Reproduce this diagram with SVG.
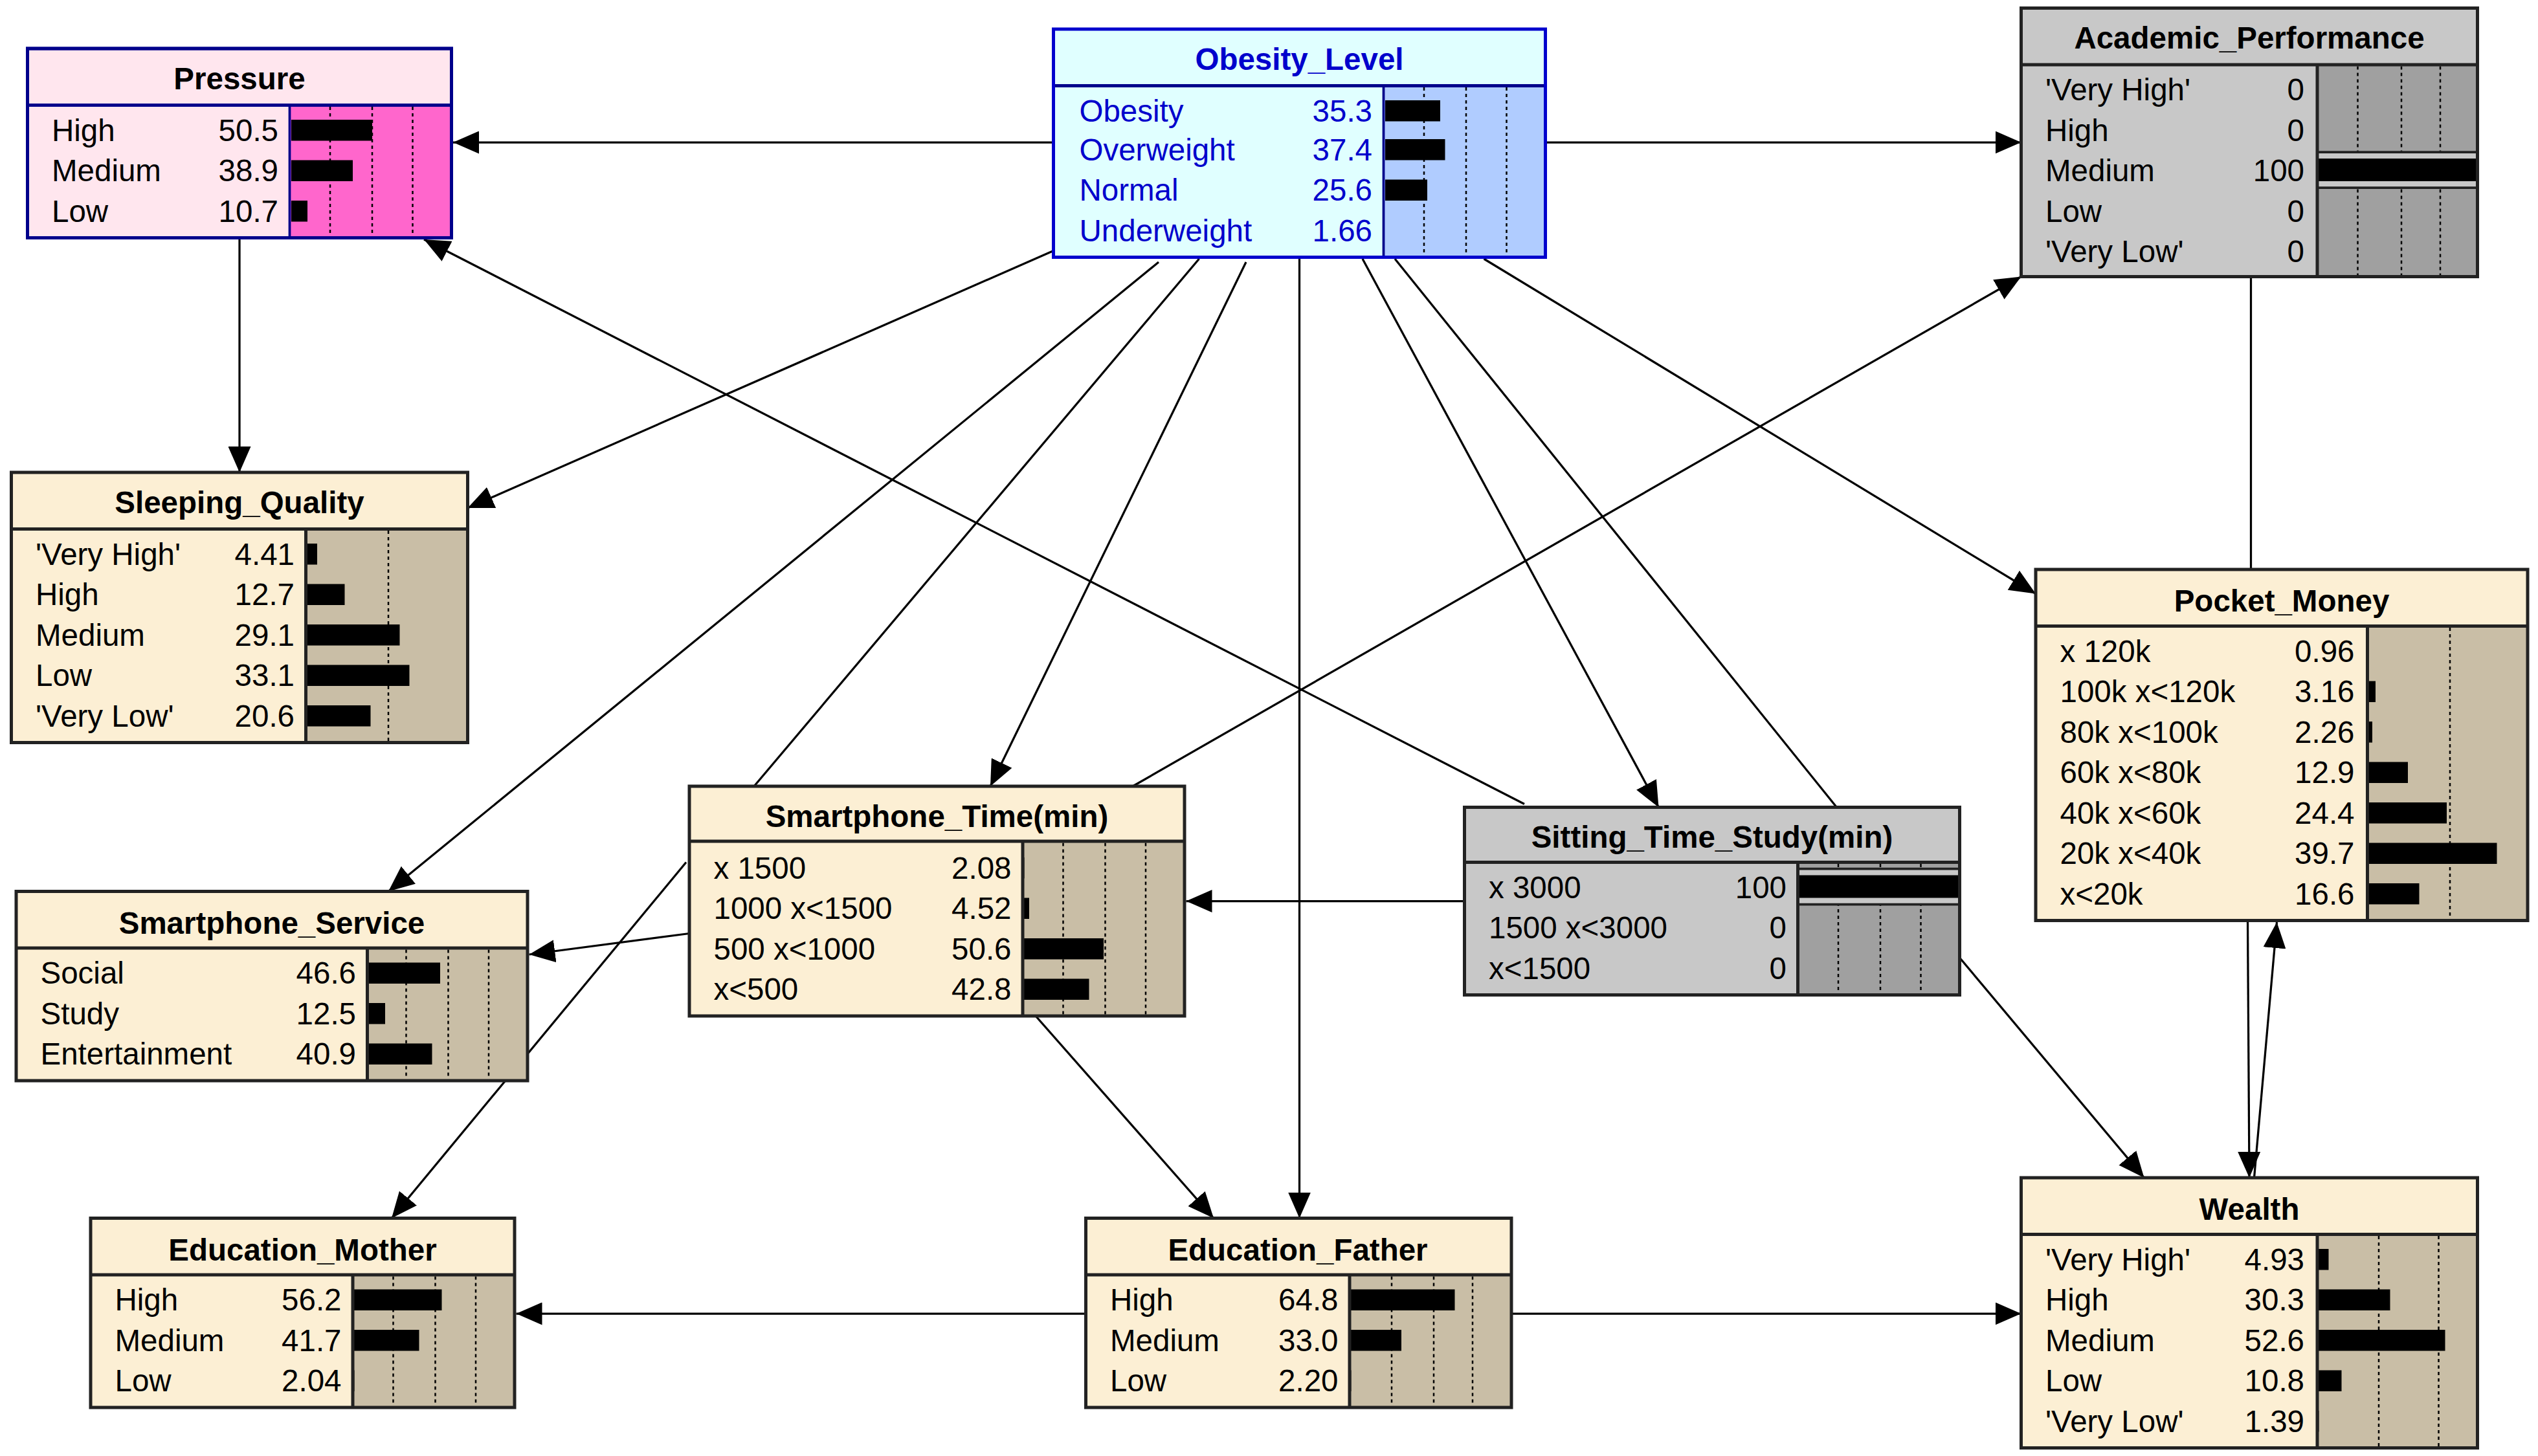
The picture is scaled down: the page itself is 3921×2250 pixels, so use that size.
<svg xmlns="http://www.w3.org/2000/svg" width="3921" height="2250" viewBox="0 0 3921 2250">
<defs>
<marker id="ah" markerUnits="userSpaceOnUse" markerWidth="18" markerHeight="14" refX="16" refY="7" orient="auto"><path d="M0,0 L16,7 L0,14 Z" fill="#000"/></marker>
<style>
text{font-family:"Liberation Sans",Arial,sans-serif;font-size:19px;fill:#000}
.t{font-weight:bold;text-anchor:middle}
.v{text-anchor:end}
.box{stroke:#222;stroke-width:2}
.sep{stroke:#222;stroke-width:2}
.dot{stroke:#000;stroke-width:1;stroke-dasharray:2,2}
.bar{fill:#000}
.tan{fill:#FCEFD4}
.tanb{fill:#C9BEA6}
.c{stroke:#000;stroke-width:1.3;fill:none}
.ca{stroke:#000;stroke-width:1.3;fill:none;marker-end:url(#ah)}
.blue{fill:#0000CC}
</style>
</defs>
<rect width="3921" height="2250" fill="#fff"/>
<g transform="scale(2.5)">
<g id="connectors">
<line class="ca" x1="651" y1="88" x2="280" y2="88"/>
<line class="ca" x1="955" y1="88" x2="1249" y2="88"/>
<line class="ca" x1="148" y1="147" x2="148" y2="292"/>
<line class="ca" x1="651" y1="155" x2="289" y2="314"/>
<line class="ca" x1="942" y1="497" x2="262" y2="148"/>
<line class="ca" x1="716" y1="162" x2="240" y2="551"/>
<line class="ca" x1="770" y1="162" x2="612" y2="486"/>
<line class="ca" x1="803" y1="160" x2="803" y2="753"/>
<line class="ca" x1="842" y1="160" x2="1025" y2="499"/>
<line class="ca" x1="917" y1="160" x2="1258" y2="367"/>
<line class="c" x1="741" y1="160" x2="466" y2="486"/>
<line class="c" x1="862" y1="160" x2="1135" y2="499"/>
<line class="c" x1="1391" y1="171" x2="1391" y2="352"/>
<line class="ca" x1="700" y1="486" x2="1249" y2="171"/>
<line class="ca" x1="905" y1="557" x2="733" y2="557"/>
<line class="ca" x1="426" y1="577" x2="327" y2="590"/>
<line class="ca" x1="424" y1="533" x2="242" y2="753"/>
<line class="ca" x1="640" y1="628" x2="750" y2="753"/>
<line class="ca" x1="671" y1="812" x2="319" y2="812"/>
<line class="ca" x1="934" y1="812" x2="1249" y2="812"/>
<line class="ca" x1="1211" y1="592" x2="1325" y2="728"/>
<line class="ca" x1="1389" y1="569" x2="1390" y2="728"/>
<line class="ca" x1="1393" y1="728" x2="1407" y2="570"/>
</g>

<g id="Pressure">
<rect x="17" y="30" width="262" height="117" fill="#FFE6EE" stroke="#00008B" stroke-width="2"/>
<rect x="179" y="65" width="100" height="82" fill="#FF66CC"/>
<line x1="17" y1="65" x2="279" y2="65" stroke="#00008B" stroke-width="2"/>
<line x1="179" y1="65" x2="179" y2="147" stroke="#00008B" stroke-width="1.5"/>
<line class="dot" x1="204" y1="66" x2="204" y2="146"/><line class="dot" x1="230" y1="66" x2="230" y2="146"/><line class="dot" x1="255" y1="66" x2="255" y2="146"/>
<rect class="bar" x="180" y="74" width="50" height="13"/><rect class="bar" x="180" y="99" width="38" height="13"/><rect class="bar" x="180" y="124" width="10" height="13"/>
<rect x="17" y="30" width="262" height="117" fill="none" stroke="#00008B" stroke-width="2"/>
<text class="t" x="148" y="55">Pressure</text>
<text x="32" y="87">High</text><text class="v" x="172" y="87">50.5</text>
<text x="32" y="112">Medium</text><text class="v" x="172" y="112">38.9</text>
<text x="32" y="137">Low</text><text class="v" x="172" y="137">10.7</text>
</g>

<g id="Obesity_Level">
<rect x="651" y="18" width="304" height="141" fill="#E0FFFF"/>
<rect x="855" y="53" width="100" height="106" fill="#B0CCFF"/>
<line x1="651" y1="53" x2="955" y2="53" stroke="#00008B" stroke-width="2"/>
<line x1="855" y1="53" x2="855" y2="159" stroke="#00008B" stroke-width="1.5"/>
<line class="dot" x1="880" y1="54" x2="880" y2="158"/><line class="dot" x1="906" y1="54" x2="906" y2="158"/><line class="dot" x1="931" y1="54" x2="931" y2="158"/>
<rect class="bar" x="856" y="62" width="34" height="13"/><rect class="bar" x="856" y="86" width="37" height="13"/><rect class="bar" x="856" y="111" width="26" height="13"/>
<rect x="651" y="18" width="304" height="141" fill="none" stroke="#0000CD" stroke-width="2"/>
<text class="t blue" x="803" y="43">Obesity_Level</text>
<text class="blue" x="667" y="75">Obesity</text><text class="v blue" x="848" y="75">35.3</text>
<text class="blue" x="667" y="99">Overweight</text><text class="v blue" x="848" y="99">37.4</text>
<text class="blue" x="667" y="124">Normal</text><text class="v blue" x="848" y="124">25.6</text>
<text class="blue" x="667" y="149">Underweight</text><text class="v blue" x="848" y="149">1.66</text>
</g>

<g id="Academic_Performance">
<rect x="1249" y="5" width="282" height="166" fill="#C8C8C8"/>
<rect x="1432" y="40" width="99" height="131" fill="#A0A0A0"/>
<line class="dot" x1="1457" y1="41" x2="1457" y2="170"/><line class="dot" x1="1484" y1="41" x2="1484" y2="170"/><line class="dot" x1="1508" y1="41" x2="1508" y2="170"/>
<rect x="1432" y="94" width="99" height="22" fill="#C8C8C8"/>
<line x1="1432" y1="94" x2="1531" y2="94" stroke="#222" stroke-width="1.5"/><line x1="1432" y1="116" x2="1531" y2="116" stroke="#222" stroke-width="1.5"/>
<rect class="bar" x="1432" y="98" width="99" height="14"/>
<line class="sep" x1="1249" y1="40" x2="1531" y2="40"/>
<line class="sep" x1="1432" y1="40" x2="1432" y2="171"/>
<rect class="box" x="1249" y="5" width="282" height="166" fill="none"/>
<text class="t" x="1390" y="30">Academic_Performance</text>
<text x="1264" y="62">'Very High'</text><text class="v" x="1424" y="62">0</text>
<text x="1264" y="87">High</text><text class="v" x="1424" y="87">0</text>
<text x="1264" y="112">Medium</text><text class="v" x="1424" y="112">100</text>
<text x="1264" y="137">Low</text><text class="v" x="1424" y="137">0</text>
<text x="1264" y="162">'Very Low'</text><text class="v" x="1424" y="162">0</text>
</g>

<g id="Sleeping_Quality">
<rect class="tan" x="7" y="292" width="282" height="167"/>
<rect class="tanb" x="189" y="327" width="100" height="132"/>
<line class="dot" x1="240" y1="328" x2="240" y2="458"/>
<rect class="bar" x="190" y="336" width="6" height="13"/><rect class="bar" x="190" y="361" width="23" height="13"/><rect class="bar" x="190" y="386" width="57" height="13"/><rect class="bar" x="190" y="411" width="63" height="13"/><rect class="bar" x="190" y="436" width="39" height="13"/>
<line class="sep" x1="7" y1="327" x2="289" y2="327"/><line class="sep" x1="189" y1="327" x2="189" y2="459"/>
<rect class="box" x="7" y="292" width="282" height="167" fill="none"/>
<text class="t" x="148" y="317">Sleeping_Quality</text>
<text x="22" y="349">'Very High'</text><text class="v" x="182" y="349">4.41</text>
<text x="22" y="374">High</text><text class="v" x="182" y="374">12.7</text>
<text x="22" y="399">Medium</text><text class="v" x="182" y="399">29.1</text>
<text x="22" y="424">Low</text><text class="v" x="182" y="424">33.1</text>
<text x="22" y="449">'Very Low'</text><text class="v" x="182" y="449">20.6</text>
</g>

<g id="Pocket_Money">
<rect class="tan" x="1258" y="352" width="304" height="217"/>
<rect class="tanb" x="1463" y="387" width="99" height="182"/>
<line class="dot" x1="1514" y1="388" x2="1514" y2="568"/>
<rect class="bar" x="1463" y="421" width="5" height="13"/><rect class="bar" x="1463" y="446" width="3" height="13"/><rect class="bar" x="1463" y="471" width="25" height="13"/><rect class="bar" x="1463" y="496" width="49" height="13"/><rect class="bar" x="1463" y="521" width="80" height="13"/><rect class="bar" x="1463" y="546" width="32" height="13"/>
<line class="sep" x1="1258" y1="387" x2="1562" y2="387"/><line class="sep" x1="1463" y1="387" x2="1463" y2="569"/>
<rect class="box" x="1258" y="352" width="304" height="217" fill="none"/>
<text class="t" x="1410" y="378">Pocket_Money</text>
<text x="1273" y="409">x 120k</text><text class="v" x="1455" y="409">0.96</text>
<text x="1273" y="434">100k x&lt;120k</text><text class="v" x="1455" y="434">3.16</text>
<text x="1273" y="459">80k x&lt;100k</text><text class="v" x="1455" y="459">2.26</text>
<text x="1273" y="484">60k x&lt;80k</text><text class="v" x="1455" y="484">12.9</text>
<text x="1273" y="509">40k x&lt;60k</text><text class="v" x="1455" y="509">24.4</text>
<text x="1273" y="534">20k x&lt;40k</text><text class="v" x="1455" y="534">39.7</text>
<text x="1273" y="559">x&lt;20k</text><text class="v" x="1455" y="559">16.6</text>
</g>

<g id="Smartphone_Time">
<rect class="tan" x="426" y="486" width="306" height="142"/>
<rect class="tanb" x="632" y="520" width="100" height="108"/>
<line class="dot" x1="657" y1="521" x2="657" y2="627"/><line class="dot" x1="683" y1="521" x2="683" y2="627"/><line class="dot" x1="708" y1="521" x2="708" y2="627"/>
<rect class="bar" x="632" y="530" width="1" height="13"/><rect class="bar" x="632" y="555" width="4" height="13"/><rect class="bar" x="632" y="580" width="50" height="13"/><rect class="bar" x="632" y="605" width="41" height="13"/>
<line class="sep" x1="426" y1="520" x2="732" y2="520"/><line class="sep" x1="632" y1="520" x2="632" y2="628"/>
<rect class="box" x="426" y="486" width="306" height="142" fill="none"/>
<text class="t" x="579" y="511">Smartphone_Time(min)</text>
<text x="441" y="543">x 1500</text><text class="v" x="625" y="543">2.08</text>
<text x="441" y="568">1000 x&lt;1500</text><text class="v" x="625" y="568">4.52</text>
<text x="441" y="593">500 x&lt;1000</text><text class="v" x="625" y="593">50.6</text>
<text x="441" y="618">x&lt;500</text><text class="v" x="625" y="618">42.8</text>
</g>

<g id="Sitting_Time_Study">
<rect x="905" y="499" width="306" height="116" fill="#C8C8C8"/>
<rect x="1111" y="533" width="100" height="82" fill="#A0A0A0"/>
<line class="dot" x1="1136" y1="534" x2="1136" y2="614"/><line class="dot" x1="1162" y1="534" x2="1162" y2="614"/><line class="dot" x1="1187" y1="534" x2="1187" y2="614"/>
<rect x="1111" y="537" width="100" height="22" fill="#C8C8C8"/>
<line x1="1111" y1="537" x2="1211" y2="537" stroke="#222" stroke-width="1.5"/><line x1="1111" y1="559" x2="1211" y2="559" stroke="#222" stroke-width="1.5"/>
<rect class="bar" x="1111" y="541" width="100" height="14"/>
<line class="sep" x1="905" y1="533" x2="1211" y2="533"/><line class="sep" x1="1111" y1="533" x2="1111" y2="615"/>
<rect class="box" x="905" y="499" width="306" height="116" fill="none"/>
<text class="t" x="1058" y="524">Sitting_Time_Study(min)</text>
<text x="920" y="555">x 3000</text><text class="v" x="1104" y="555">100</text>
<text x="920" y="580">1500 x&lt;3000</text><text class="v" x="1104" y="580">0</text>
<text x="920" y="605">x&lt;1500</text><text class="v" x="1104" y="605">0</text>
</g>

<g id="Smartphone_Service">
<rect class="tan" x="10" y="551" width="316" height="117"/>
<rect class="tanb" x="227" y="586" width="99" height="82"/>
<line class="dot" x1="251" y1="587" x2="251" y2="667"/><line class="dot" x1="277" y1="587" x2="277" y2="667"/><line class="dot" x1="302" y1="587" x2="302" y2="667"/>
<rect class="bar" x="227" y="595" width="45" height="13"/><rect class="bar" x="227" y="620" width="11" height="13"/><rect class="bar" x="227" y="645" width="40" height="13"/>
<line class="sep" x1="10" y1="586" x2="326" y2="586"/><line class="sep" x1="227" y1="586" x2="227" y2="668"/>
<rect class="box" x="10" y="551" width="316" height="117" fill="none"/>
<text class="t" x="168" y="577">Smartphone_Service</text>
<text x="25" y="608">Social</text><text class="v" x="220" y="608">46.6</text>
<text x="25" y="633">Study</text><text class="v" x="220" y="633">12.5</text>
<text x="25" y="658">Entertainment</text><text class="v" x="220" y="658">40.9</text>
</g>

<g id="Education_Mother">
<rect class="tan" x="56" y="753" width="262" height="117"/>
<rect class="tanb" x="218" y="788" width="100" height="82"/>
<line class="dot" x1="243" y1="789" x2="243" y2="869"/><line class="dot" x1="269" y1="789" x2="269" y2="869"/><line class="dot" x1="294" y1="789" x2="294" y2="869"/>
<rect class="bar" x="218" y="797" width="55" height="13"/><rect class="bar" x="218" y="822" width="41" height="13"/><rect class="bar" x="218" y="847" width="1" height="13"/>
<line class="sep" x1="56" y1="788" x2="318" y2="788"/><line class="sep" x1="218" y1="788" x2="218" y2="870"/>
<rect class="box" x="56" y="753" width="262" height="117" fill="none"/>
<text class="t" x="187" y="779">Education_Mother</text>
<text x="71" y="810">High</text><text class="v" x="211" y="810">56.2</text>
<text x="71" y="835">Medium</text><text class="v" x="211" y="835">41.7</text>
<text x="71" y="860">Low</text><text class="v" x="211" y="860">2.04</text>
</g>

<g id="Education_Father">
<rect class="tan" x="671" y="753" width="263" height="117"/>
<rect class="tanb" x="834" y="788" width="100" height="82"/>
<line class="dot" x1="860" y1="789" x2="860" y2="869"/><line class="dot" x1="886" y1="789" x2="886" y2="869"/><line class="dot" x1="910" y1="789" x2="910" y2="869"/>
<rect class="bar" x="834" y="797" width="65" height="13"/><rect class="bar" x="834" y="822" width="32" height="13"/><rect class="bar" x="834" y="847" width="1" height="13"/>
<line class="sep" x1="671" y1="788" x2="934" y2="788"/><line class="sep" x1="834" y1="788" x2="834" y2="870"/>
<rect class="box" x="671" y="753" width="263" height="117" fill="none"/>
<text class="t" x="802" y="779">Education_Father</text>
<text x="686" y="810">High</text><text class="v" x="827" y="810">64.8</text>
<text x="686" y="835">Medium</text><text class="v" x="827" y="835">33.0</text>
<text x="686" y="860">Low</text><text class="v" x="827" y="860">2.20</text>
</g>

<g id="Wealth">
<rect class="tan" x="1249" y="728" width="282" height="167"/>
<rect class="tanb" x="1432" y="763" width="99" height="132"/>
<line class="dot" x1="1470" y1="764" x2="1470" y2="894"/><line class="dot" x1="1507" y1="764" x2="1507" y2="894"/>
<rect class="bar" x="1432" y="772" width="7" height="13"/><rect class="bar" x="1432" y="797" width="45" height="13"/><rect class="bar" x="1432" y="822" width="79" height="13"/><rect class="bar" x="1432" y="847" width="15" height="13"/><rect class="bar" x="1432" y="872" width="1" height="13"/>
<line class="sep" x1="1249" y1="763" x2="1531" y2="763"/><line class="sep" x1="1432" y1="763" x2="1432" y2="895"/>
<rect class="box" x="1249" y="728" width="282" height="167" fill="none"/>
<text class="t" x="1390" y="754">Wealth</text>
<text x="1264" y="785">'Very High'</text><text class="v" x="1424" y="785">4.93</text>
<text x="1264" y="810">High</text><text class="v" x="1424" y="810">30.3</text>
<text x="1264" y="835">Medium</text><text class="v" x="1424" y="835">52.6</text>
<text x="1264" y="860">Low</text><text class="v" x="1424" y="860">10.8</text>
<text x="1264" y="885">'Very Low'</text><text class="v" x="1424" y="885">1.39</text>
</g>
</g>
</svg>
